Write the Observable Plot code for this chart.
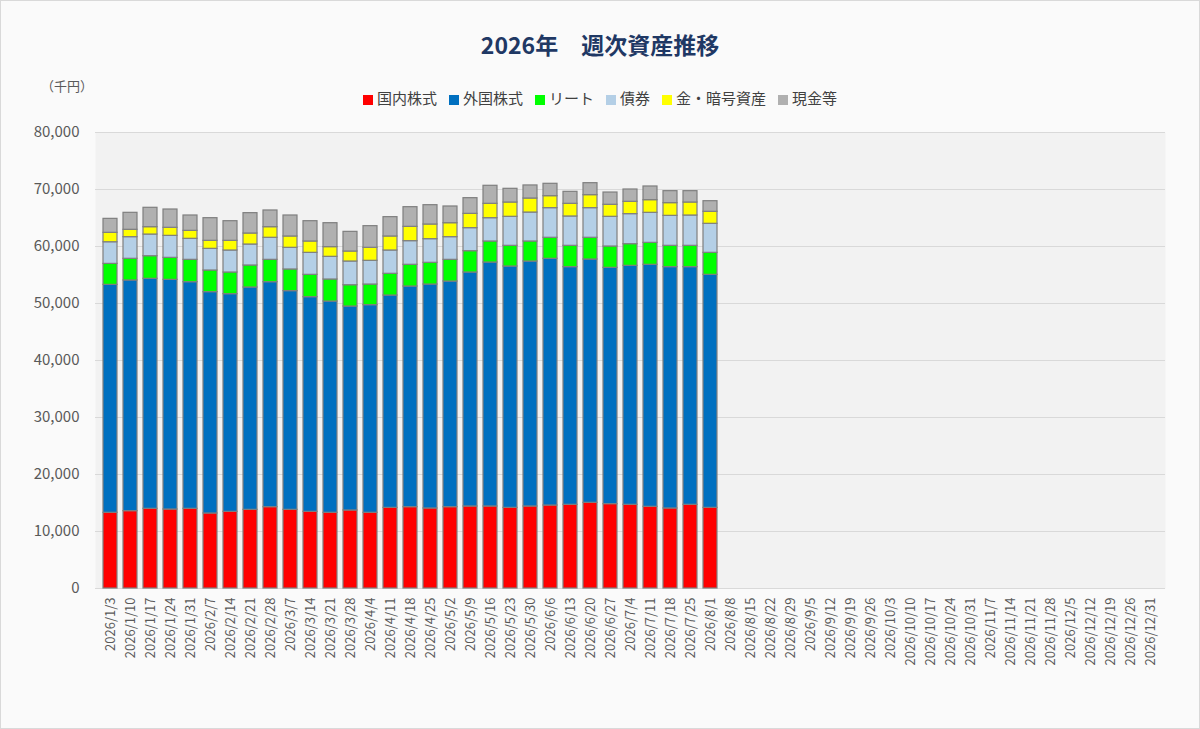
<!DOCTYPE html>
<html><head><meta charset="utf-8">
<script src="https://cdn.jsdelivr.net/npm/d3@7"></script>
<script src="https://cdn.jsdelivr.net/npm/@observablehq/plot@0.6"></script>
<style>
body{margin:0;background:#fff;font-family:"Noto Sans CJK JP","Noto Sans",sans-serif;}
#wrap{position:relative;width:1198px;height:727px;background:#fafafa;border:1px solid #d9d9d9;overflow:hidden}
#title{position:absolute;top:26px;left:0;width:1198px;text-align:center;font-size:23px;font-weight:bold;color:#1f3864}
#unit{position:absolute;top:75px;left:40px;font-size:13px;color:#595959}
#legend{position:absolute;top:86px;left:0;width:1198px;text-align:center;font-size:15px;color:#404040}
#legend span{margin:0 6px;white-space:nowrap}
#legend i{display:inline-block;width:10px;height:10px;margin-right:4px;vertical-align:-1px}
#chart{position:absolute;top:0;left:0}
</style></head><body>
<div id="wrap"><div id="chart"></div><div id="title">2026年　週次資産推移</div><div id="unit">（千円）</div><div id="legend"></div></div>
<script>
const dates = ["2026/1/3","2026/1/10","2026/1/17","2026/1/24","2026/1/31","2026/2/7","2026/2/14","2026/2/21","2026/2/28","2026/3/7","2026/3/14","2026/3/21","2026/3/28","2026/4/4","2026/4/11","2026/4/18","2026/4/25","2026/5/2","2026/5/9","2026/5/16","2026/5/23","2026/5/30","2026/6/6","2026/6/13","2026/6/20","2026/6/27","2026/7/4","2026/7/11","2026/7/18","2026/7/25","2026/8/1","2026/8/8","2026/8/15","2026/8/22","2026/8/29","2026/9/5","2026/9/12","2026/9/19","2026/9/26","2026/10/3","2026/10/10","2026/10/17","2026/10/24","2026/10/31","2026/11/7","2026/11/14","2026/11/21","2026/11/28","2026/12/5","2026/12/12","2026/12/19","2026/12/26","2026/12/31"];
const seriesNames = ["国内株式","外国株式","リート","債券","金・暗号資産","現金等"];
const seriesColors = ["#ff0000","#0070c0","#00ff00","#b4cfe6","#ffff00","#b0b0b0"];
const domestic = [13280,13570,13980,13860,13980,13160,13450,13800,14270,13800,13450,13280,13690,13280,14150,14270,14040,14270,14390,14390,14150,14390,14560,14680,15030,14800,14680,14330,14040,14680,14150];
const foreign  = [39990,40470,40350,40290,39760,38830,38190,39010,39470,38370,37660,37070,35780,36430,37250,38710,39290,39590,41050,42800,42340,42980,43280,41700,42690,41460,41930,42460,42340,41700,40880];
const reit     = [3680,3800,3970,3860,3920,3800,3800,3860,3920,3800,3920,3860,3740,3620,3810,3810,3810,3800,3740,3690,3630,3510,3690,3740,3810,3740,3800,3850,3740,3740,3860];
const bonds    = [3800,3800,3800,3860,3690,3800,3860,3680,3870,3800,3860,3980,4160,4160,4090,4150,4150,3980,4040,4090,5090,5080,5200,5150,5200,5210,5270,5270,5260,5320,5090];
const goldCrypto = [1650,1290,1290,1410,1400,1410,1700,1930,1860,1990,1990,1700,1750,2280,2460,2510,2570,2450,2510,2520,2510,2460,2100,2220,2280,2110,2160,2220,2230,2280,2110];
const cash     = [2450,2980,3400,3210,2690,3970,3440,3570,2930,3680,3560,4200,3450,3800,3390,3450,3390,2930,2750,3160,2400,2290,2170,2100,2100,2150,2160,2400,2100,1990,1860];
const yTicks = [0,10000,20000,30000,40000,50000,60000,70000,80000];

const seriesValues = [domestic, foreign, reit, bonds, goldCrypto, cash];
const data = [];
seriesNames.forEach((s, si) => seriesValues[si].forEach((v, i) => data.push({date: dates[i], series: s, value: v})));

const chart = Plot.plot({
  width: 1198, height: 727,
  marginTop: 131, marginBottom: 140, marginLeft: 94, marginRight: 34,
  style: {background: "transparent", fontFamily: "'Noto Sans CJK JP','Noto Sans',sans-serif", color: "#595959"},
  x: {domain: dates, padding: 0.3, label: null, tickRotate: -90, tickSize: 0, tickPadding: 6},
  y: {domain: [0, 80000], ticks: yTicks, tickFormat: d3.format(","), label: null, tickSize: 0, tickPadding: 16},
  color: {domain: seriesNames, range: seriesColors},
  marks: [
    Plot.frame({fill: "#f2f2f2", stroke: null}),
    Plot.gridY(yTicks, {stroke: "#d9d9d9", strokeOpacity: 1}),
    Plot.barY(data, {x: "date", y: "value", fill: "series", order: seriesNames, stroke: "#7f7f7f", strokeWidth: 1.2}),
    Plot.axisX({tickRotate: -90, tickSize: 0, fontSize: 13, label: null}),
    Plot.axisY({ticks: yTicks, tickFormat: d3.format(","), tickSize: 0, tickPadding: 16, fontSize: 15, label: null})
  ]
});
document.getElementById("chart").appendChild(chart);
document.getElementById("legend").innerHTML = seriesNames.map((s, i) => `<span><i style="background:${seriesColors[i]}"></i>${s}</span>`).join("");
</script>
</body></html>
